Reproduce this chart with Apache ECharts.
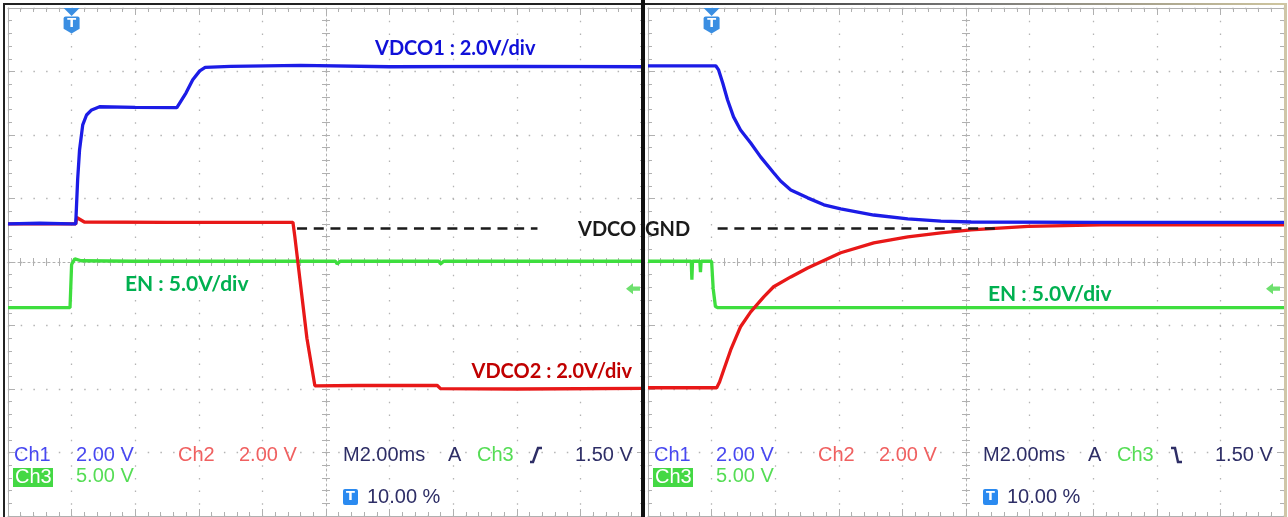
<!DOCTYPE html>
<html><head><meta charset="utf-8">
<script src="https://cdn.jsdelivr.net/npm/echarts@6/dist/echarts.min.js"></script>
<style>html,body{margin:0;padding:0;background:#fff}#c{width:1288px;height:517px}</style>
</head><body><div id="c"></div>
<script>
// ---------------- data ----------------
const timeRangeMs = [-2, 18];            // 10 div x 2 ms, trigger at 10 %
const verticalDivisions = [-4, 4];       // 8 vertical divisions
const voltsPerDiv = { ch1: 2, ch2: 2, ch3: 5 };
const groundOffsetDiv = { ch1: 0.6, ch2: 0.6, ch3: -0.72 };
const triggerLevelV = 1.5;
const gndMarkerV = -0.14;
const gndDashLeftMs = [7.09, 14.65];
const gndDashRightMs = [0.19, 9.0];

// power-on capture [time ms, volts]
const powerOnVdco1 = [[-2,0],[-1,0.02],[0,0],[0.13,0],[0.19,1.39],[0.25,2.33],[0.35,3.12],[0.47,3.43],[0.63,3.59],[0.88,3.69],[2,3.67],[3.31,3.66],[3.6,4.13],[3.81,4.54],[4.03,4.82],[4.2,4.93],[5,4.96],[7.2,4.99],[10,4.95],[14,4.96],[18,4.95]];
const powerOnVdco2 = [[-2,0],[0.13,0],[0.16,0.2],[0.4,0.06],[3,0.05],[6.96,0.05],[7.02,-0.4],[7.4,-3.6],[7.65,-5.1],[9,-5.09],[11.5,-5.09],[11.6,-5.19],[14,-5.2],[18,-5.18]];
const powerOnEn = [[-2,0],[-0.05,0],[0,3.4],[0.1,3.85],[0.3,3.7],[2,3.66],[8.3,3.66],[8.35,3.45],[8.45,3.66],[11.55,3.66],[11.6,3.45],[11.7,3.66],[18,3.66]];

// power-off capture [time ms, volts]
const powerOffVdco1 = [[-2,4.98],[0.13,4.98],[0.22,4.85],[0.35,4.44],[0.5,3.91],[0.69,3.37],[0.91,2.96],[1.23,2.55],[1.54,2.11],[1.95,1.61],[2.17,1.35],[2.49,1.07],[3.02,0.82],[3.53,0.6],[4.06,0.47],[5.1,0.28],[6.17,0.16],[7.21,0.09],[8.16,0.06],[12,0.05],[18,0.05]];
const powerOffVdco2 = [[-2,-5.16],[0.16,-5.16],[0.25,-4.98],[0.38,-4.6],[0.6,-3.97],[0.76,-3.59],[0.91,-3.24],[1.23,-2.77],[1.64,-2.3],[1.95,-1.98],[2.49,-1.67],[3.02,-1.39],[4.06,-0.91],[5.1,-0.6],[6.17,-0.41],[7.21,-0.28],[8.16,-0.19],[9.95,-0.08],[12.25,-0.03],[18,-0.03]];
const powerOffEn = [[-2,3.66],[-0.64,3.66],[-0.62,2.2],[-0.6,3.66],[-0.37,3.66],[-0.35,2.8],[-0.33,3.66],[0,3.66],[0.05,1.5],[0.12,0.1],[0.2,0],[18,0]];

const annotVdco1 = 'VDCO1 : 2.0V/div';
const annotVdco2 = 'VDCO2 : 2.0V/div';
const annotEn = 'EN : 5.0V/div';
const statusTexts = { ch1: 'Ch1', ch2: 'Ch2', ch3: 'Ch3', v2: '2.00 V', v5: '5.00 V', time: 'M2.00ms', mode: 'A', lvl: '1.50 V', pos: '10.00 %' };

// ---------------- chart ----------------
const chart = echarts.init(document.getElementById('c'));
const GRIDS = [{left:8, top:8, width:636, height:508}, {left:648, top:8, width:636, height:508}];
const gridColor = '#b0b0b0';
const COL = { blue:'#1c1ce6', red:'#e81818', green:'#3ede3e' };

function chRange(ch){ const o=groundOffsetDiv[ch], v=voltsPerDiv[ch]; return [(verticalDivisions[0]-o)*v, (verticalDivisions[1]-o)*v]; }

const xAxes=[], yAxes=[], series=[];
const tick=(inside,len,mlen)=>({axisTick:{show:true,inside,length:len,lineStyle:{color:gridColor}},minorTick:{show:true,splitNumber:5,length:mlen,lineStyle:{color:gridColor}}});

const panels = [
  {vd1: powerOnVdco1, vd2: powerOnVdco2, en: powerOnEn, dash: gndDashLeftMs},
  {vd1: powerOffVdco1, vd2: powerOffVdco2, en: powerOffEn, dash: gndDashRightMs}
];

GRIDS.forEach((g,gi)=>{
  const bx={gridIndex:gi,type:'value',min:timeRangeMs[0],max:timeRangeMs[1],interval:2,axisLabel:{show:false},splitLine:{show:false},axisLine:{show:true,onZero:false,lineStyle:{color:gridColor}}};
  xAxes.push({...bx,position:'bottom',...tick(true,7,4),splitLine:{show:true,lineStyle:{color:'#b4b4b4',type:[1.5,11.2],width:1.3}}});
  xAxes.push({...bx,position:'top',...tick(true,7,4)});
  xAxes.push({...bx,position:'bottom',offset:-254,...tick(false,4,4),axisLine:{show:true,onZero:false,lineStyle:{color:gridColor,type:[2,3]}}});
  xAxes.push({...bx,position:'top',offset:-254,...tick(false,4,4),axisLine:{show:false,onZero:false}});
  const by={gridIndex:gi,type:'value',min:verticalDivisions[0],max:verticalDivisions[1],interval:1,axisLabel:{show:false},splitLine:{show:false},axisLine:{show:true,onZero:false,lineStyle:{color:gridColor}}};
  yAxes.push({...by,position:'left',...tick(true,7,4),splitLine:{show:true,lineStyle:{color:'#b4b4b4',type:[1.5,11.2],width:1.3}}});
  yAxes.push({...by,position:'right',...tick(true,7,4)});
  yAxes.push({...by,position:'left',offset:-318,...tick(false,4,4),axisLine:{show:true,onZero:false,lineStyle:{color:gridColor,type:[2,3]}}});
  yAxes.push({...by,position:'right',offset:-318,...tick(false,4,4),axisLine:{show:false,onZero:false}});
  ['ch1','ch2','ch3'].forEach(ch=>{ const r=chRange(ch); yAxes.push({gridIndex:gi,type:'value',show:false,min:r[0],max:r[1],axisLine:{onZero:false}}); });

  const p=panels[gi], xi=gi*4, yb=gi*7+4;
  const line=(name,data,color,yi,z,extra)=>Object.assign({type:'line',name,xAxisIndex:xi,yAxisIndex:yi,data,showSymbol:false,symbol:'none',animation:false,silent:true,z,lineStyle:{color,width:3.3},itemStyle:{color}},extra||{});
  series.push(line('EN',p.en,COL.green,yb+2,3,{
    markPoint:{silent:true,animation:false,data:[{coord:[timeRangeMs[1],triggerLevelV],symbol:'path://M0,5 L6,0 L6,3 L12,3 L12,7 L6,7 L6,10 Z',symbolSize:[14,11],symbolOffset:[-11,0],itemStyle:{color:'#6ee06e'},label:{show:false}}]}
  }));
  series.push(line('VDCO2',p.vd2,COL.red,yb+1,4));
  const top=chRange('ch1')[1];
  series.push(line('VDCO1',p.vd1,COL.blue,yb,5,{
    markLine:{silent:true,animation:false,symbol:'none',label:{show:false},lineStyle:{color:'#1a1a1a',width:2.5,type:[10,6.7]},data:[[{coord:[p.dash[0],gndMarkerV]},{coord:[p.dash[1],gndMarkerV]}]]},
    markPoint:{silent:true,animation:false,data:[
      {coord:[0,top],symbol:'path://M0,0 L12,0 L6,7 Z',symbolSize:[16,8],symbolOffset:[0,4],itemStyle:{color:'#3a8ee2'},label:{show:false}},
      {coord:[0,top],symbol:'path://M2,0 L14,0 Q16,0 16,2 L16,13 L8,18 L0,13 L0,2 Q0,0 2,0 Z',symbolSize:[16,17],symbolOffset:[0,17],itemStyle:{color:'#3a8ee2'},label:{show:true,formatter:'T',color:'#fff',fontWeight:'bold',fontSize:13,fontFamily:'DejaVu Sans',position:'inside',offset:[0,-1]}}
    ]}
  }));
});

// ---------------- graphic texts & frame ----------------
const G=[];
const txt=(text,x,y,fill,font,align)=>G.push({type:'text',silent:true,z:20,style:{text,x,y,fill,font,align:align||'left',verticalAlign:'middle'}});
const annFont='bold 20px Lato';
txt(annotVdco1,375,49,'#1010d8',annFont);
txt(annotVdco2,632,372,'#c00000',annFont,'right');
txt(annotEn,125,284,'#00b050','bold 21px Lato');
txt(annotEn,988,294,'#00b050','bold 21px Lato');
txt('VDCO',578,230,'#1a1a1a',annFont);
txt('GND',645,230,'#1a1a1a',annFont);

const sf='20px "Liberation Sans"';
const navy='#2e2e66';
[0,640].forEach((dx,i)=>{
  txt(statusTexts.ch1,14+dx,455,'#4848f0',sf);
  txt(statusTexts.v2,76+dx,455,'#4848f0',sf);
  txt(statusTexts.ch2,178+dx,455,'#f06060',sf);
  txt(statusTexts.v2,239+dx,455,'#f06060',sf);
  G.push({type:'rect',silent:true,z:19,shape:{x:13+dx,y:468,width:40,height:19},style:{fill:'#44d844'}});
  txt(statusTexts.ch3,15+dx,477,'#ffffff',sf);
  txt(statusTexts.v5,76+dx,476,'#55dd55',sf);
  txt(statusTexts.time,343+dx,455,navy,sf);
  txt(statusTexts.mode,448+dx,455,navy,sf);
  txt(statusTexts.ch3,477+dx,455,'#55dd55',sf);
  const pts = i===0 ? [[530,462],[533,462],[538,448],[542,448]] : [[531,448],[535,448],[538,462],[542,462]];
  G.push({type:'polyline',silent:true,z:20,shape:{points:pts.map(p=>[p[0]+dx,p[1]])},style:{stroke:navy,lineWidth:2.5,fill:null}});
  txt(statusTexts.lvl,575+dx,455,navy,sf);
  G.push({type:'rect',silent:true,z:19,shape:{x:343+dx,y:489,width:15,height:16,r:2},style:{fill:'#2a8af0'}});
  txt('T',350.5+dx,497,'#fff','bold 13px "DejaVu Sans"','center');
  txt(statusTexts.pos,367+dx,497,navy,sf);
});
// frame
G.push({type:'rect',silent:true,z:30,shape:{x:3,y:3,width:640,height:2},style:{fill:'#222'}});
G.push({type:'rect',silent:true,z:30,shape:{x:3,y:3,width:2,height:514},style:{fill:'#222'}});
G.push({type:'rect',silent:true,z:30,shape:{x:641,y:0,width:4,height:517},style:{fill:'#111'}});
G.push({type:'rect',silent:true,z:30,shape:{x:645,y:3,width:641,height:2},style:{fill:new echarts.graphic.LinearGradient(0,0,1,0,[{offset:0,color:'#222'},{offset:0.5,color:'#777'},{offset:1,color:'#cfc6a0'}])}});
G.push({type:'rect',silent:true,z:30,shape:{x:1284,y:3,width:3,height:514},style:{fill:'#cfc6a8'}});

chart.setOption({
  backgroundColor:'#fff',
  animation:false,
  grid:GRIDS.map(g=>({...g,containLabel:false,outerBoundsMode:'none'})),
  xAxis:xAxes, yAxis:yAxes, series, graphic:G
});
</script></body></html>
